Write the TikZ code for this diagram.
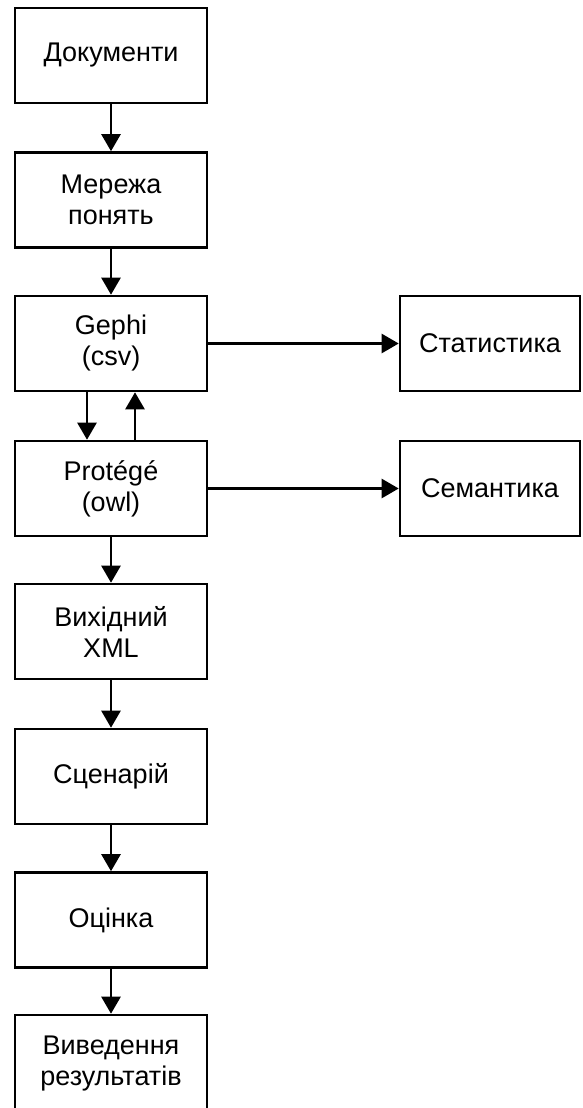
\documentclass[tikz,border=0pt]{standalone}
\usepackage{fontspec}
\setmainfont{Liberation Sans}
\usetikzlibrary{arrows.meta}
\begin{document}
\begin{tikzpicture}[x=1pt,y=-1pt,
  box/.style={draw=black, line width=2.6pt, minimum width=192pt, minimum height=95pt,
    inner sep=0pt, align=center, font=\fontsize{27}{31}\selectfont},
  rbox/.style={box, minimum width=180pt},
  arr/.style={line width=2.6pt, -{Triangle[width=19pt,length=17pt]}}]
\useasboundingbox (0,0) rectangle (582,1108);
\node[box] (d) at (111,55.5) {Документи};
\node[box] (m) at (111,200) {Мережа\\понять};
\node[box] (g) at (111,343.5) {Gephi\\(csv)};
\node[box] (p) at (111,488.5) {Protégé\\(owl)};
\node[box] (x) at (111,631.5) {Вихідний\\XML};
\node[box] (s) at (111,776.5) {Сценарій};
\node[box] (o) at (111,920) {Оцінка};
\node[box, minimum height=96pt] (v) at (111,1063) {Виведення\\результатів};
\node[rbox] (st) at (490,343.5) {Статистика};
\node[rbox] (se) at (490,488.5) {Семантика};
\draw[arr] (d) -- (m);
\draw[arr] (m) -- (g);
\draw[arr] ([xshift=-24pt]g.south) -- ([xshift=-24pt]p.north);
\draw[arr] ([xshift=24pt]p.north) -- ([xshift=24pt]g.south);
\draw[arr] (p) -- (x);
\draw[arr] (x) -- (s);
\draw[arr] (s) -- (o);
\draw[arr] (o) -- (v);
\draw[arr] (g) -- (st);
\draw[arr] (p) -- (se);
\end{tikzpicture}
\end{document}
